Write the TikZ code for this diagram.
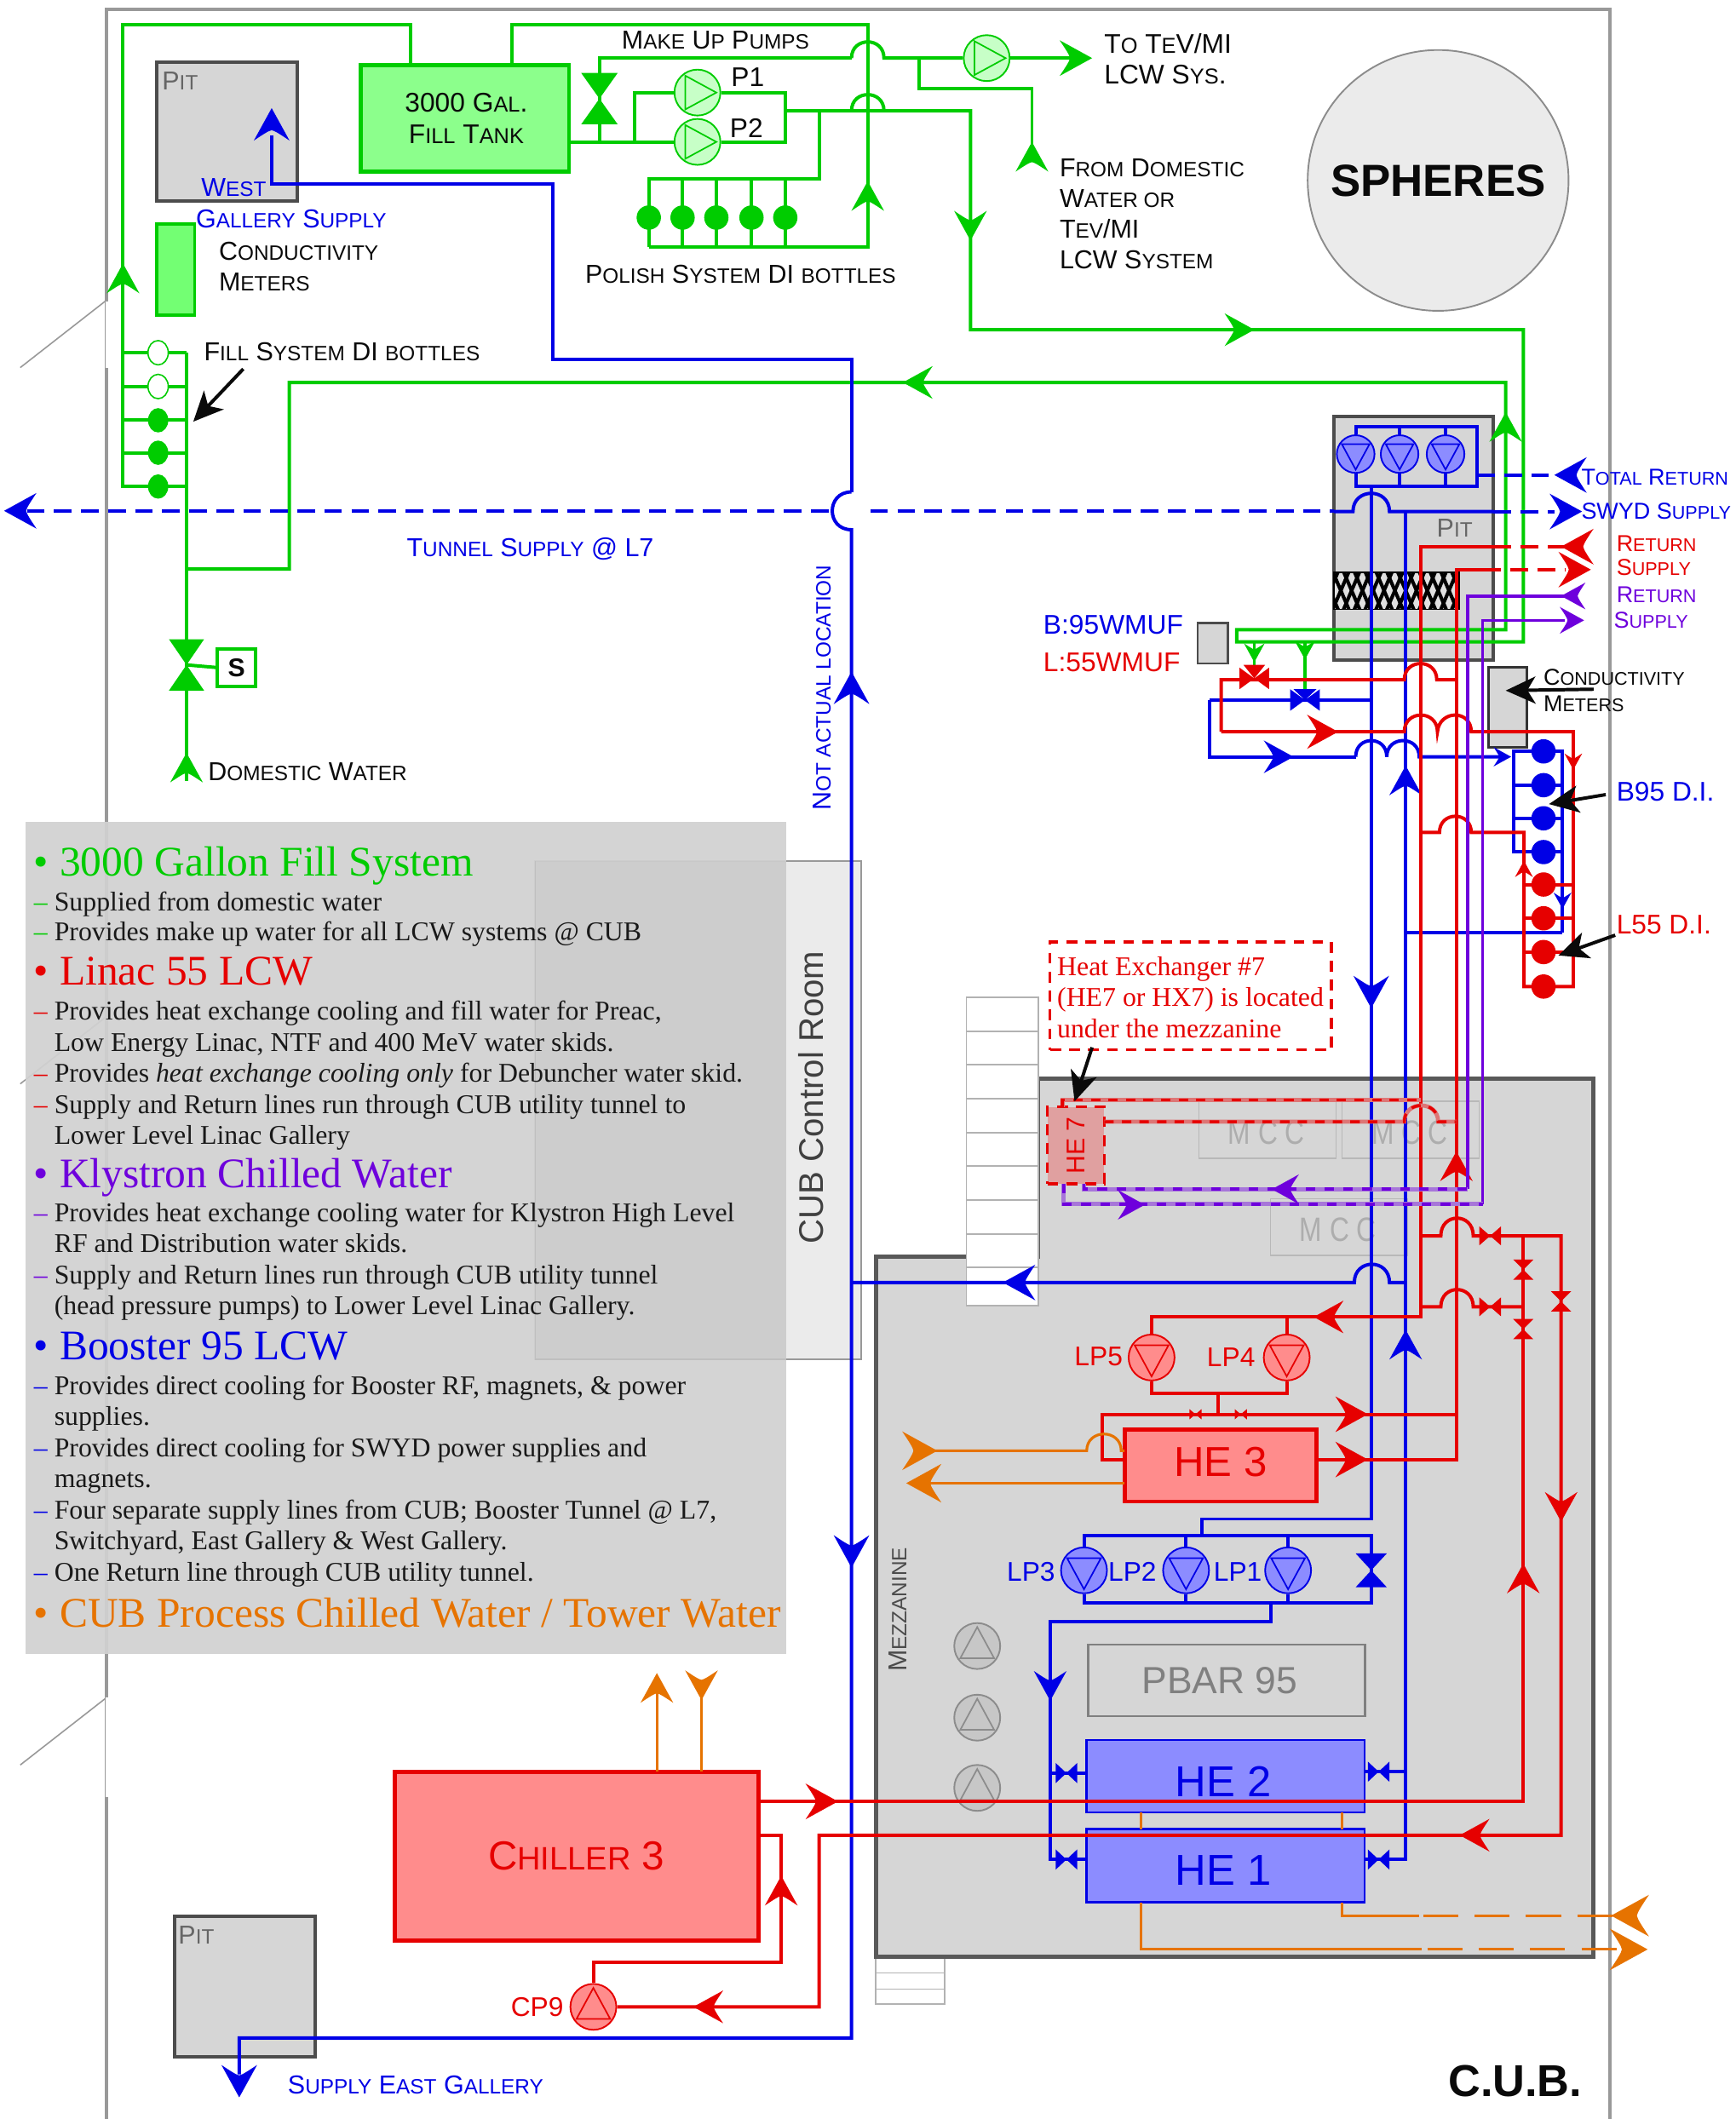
\documentclass[tikz,border=0pt]{standalone}
\usepackage{fontspec}
\setmainfont{Liberation Sans}
\newfontfamily\ser{Liberation Serif}
\usetikzlibrary{arrows.meta,shapes.geometric}
\definecolor{G}{HTML}{00CC00}
\definecolor{R}{HTML}{E60000}
\definecolor{B}{HTML}{0000E6}
\definecolor{V}{HTML}{6E00DC}
\definecolor{O}{HTML}{E67300}
\definecolor{LG}{HTML}{D6D6D6}
\definecolor{TX}{HTML}{0A0A0A}
\makeatletter
\newcommand\sm[1]{{\fontsize{\strip@pt\dimexpr0.8\dimexpr\f@size pt\relax\relax}{0pt}\selectfont #1}}
\makeatother
\newcommand\fs[1]{\fontsize{#1}{#1}\selectfont}
% filled arrowhead: colour, tip x, tip y, angle, length
\newcommand\AH[5]{\fill[#1,shift={(#2,#3)},rotate=#4,scale=#5] (0,0) -- (-1,.55) .. controls (-.8,.25) and (-.7,.1) .. (-.68,0) .. controls (-.7,-.1) and (-.8,-.25) .. (-1,-.55) -- cycle;}
% pump: [scale] name, x, y, fill, line, direction angle
\newcommand\pump[7][1]{\node[circle,draw=#6,fill=#5,line width=1.2pt,minimum size={34pt*#1},inner sep=0pt] (#2) at (#3,#4) {};
 \draw[#6,line width=1.1pt,shift={(#3,#4)},rotate=#7,scale=#1] (14,0) -- (-9,12.5) -- (-9,-12.5) -- cycle;}
% box: name, x1,y1,x2,y2, style, text
\newcommand\bx[7]{\node[#6,minimum width={(#4-#2)*1pt},minimum height={(#5-#3)*1pt},inner sep=0pt,outer sep=0pt] (#1) at ({(#2+#4)/2},{(#3+#5)/2}) {#7};}
% valves: colour,x,y,half width,half height
\newcommand\vv[5]{\fill[#1] ({#2-#4},{#3-#5}) -- ({#2+#4},{#3-#5}) -- ({#2-#4},{#3+#5}) -- ({#2+#4},{#3+#5}) -- cycle;}
\newcommand\hv[5]{\fill[#1] ({#2-#4},{#3-#5}) -- ({#2-#4},{#3+#5}) -- ({#2+#4},{#3-#5}) -- ({#2+#4},{#3+#5}) -- cycle;}
% jump over a vertical pipe: centre x, y, radius
\def\hj#1#2#3{-- ({#1-#3},#2) .. controls ({#1-#3},{#2-1.33*#3}) and ({#1+#3},{#2-1.33*#3}) .. ({#1+#3},#2)}
% labels, named from their position
\newcommand\lab[5][sc]{\node[#1,text=#2] (t#3x#4) at (#3,#4) {#5};}
\newcommand\bod[4]{\node[lgb] (d#2) at (40,#2) {#3};\node[lgb,text=#1] (m#2) at (25,#2) {#4};}
\newcommand\lin[2]{\node[lgb] (d#1) at (40,#1) {#2};}
\newcommand\hed[3]{\node[lgh,text=#1] (h#2) at (25,#2) {•};\node[lgh,text=#1] (k#2) at (44,#2) {#3};}
\tikzset{
 sc/.style={font=\fs{19.2},anchor=west,inner sep=0pt,outer sep=0pt},
 scn/.style={font=\fs{20},anchor=west,inner sep=0pt,outer sep=0pt},
 scs/.style={font=\fs{17},anchor=west,inner sep=0pt,outer sep=0pt},
 lgb/.style={font=\ser\fs{20.05},anchor=base west,inner sep=0pt,text=black!90,yshift=-6.8pt},
 lgh/.style={font=\ser\fs{31.2},anchor=base west,inner sep=0pt,yshift=-11pt},
 mcct/.style={font=\fs{25},text=black!32,inner sep=0pt,xscale=.8},
 pg/.style={line width=2.5pt,G,line join=miter},
 pr/.style={line width=2.5pt,R},
 pb/.style={line width=2.5pt,B},
 pv/.style={line width=2.2pt,V},
 po/.style={line width=2pt,O},
 bk/.style={line width=2.5pt,TX,-{Stealth[length=22pt,width=20pt,inset=6pt]}},
 dsh/.style={dash pattern=on 13pt off 7pt},
 bigdash/.style={dash pattern=on 8pt off 6pt},
 bot/.style={circle,minimum size=18pt,inner sep=0pt,fill=#1},
 fbot/.style={ellipse,minimum width=15pt,minimum height=18pt,inner sep=0pt,fill=#1},
}
\begin{document}
\begin{tikzpicture}[x=1pt,y=-1pt]
\useasboundingbox (0,0) rectangle (1284,1568);
\fill[white] (0,0) rectangle (1284,1568);
% building
\draw[black!40,line width=2.5pt] (79,1568) -- (79,7) -- (1191,7) -- (1191,1568);
\draw[white,line width=2pt] (79,223) -- (79,272);
\draw[black!40,line width=1pt] (15,272) -- (79,222);
\draw[black!40,line width=1pt] (15,802) -- (79,752);
\draw[black!40,line width=1pt] (15,1306) -- (79,1256);
\draw[white,line width=2pt] (79,1256) -- (79,1330);
% spheres
\node[circle,draw=black!45,fill=black!8,line width=1.2pt,minimum size=193pt,inner sep=0pt,font=\fs{33.3},text=TX] (sph) at (1064,133.5) {\textbf{SPHERES}};
% control room and legend
\bx{ctrl}{396}{637}{637}{1006}{draw=black!40,fill=black!8,line width=1.2pt}{}
\node[rotate=90,font=\fs{25.3},text=black!75,inner sep=0pt] (ctrlt) at (600,812) {CUB Control Room};
\bx{legend}{19}{608}{582}{1224}{fill=black!18,fill opacity=.93}{}
\fill[black,opacity=.025] (396,637) rectangle (582,1006);
\draw[black!25,line width=1pt] (396,637) -- (396,1006) -- (582,1006);
% stairs
\bx{sm}{648}{1448}{699}{1483}{draw=black!30,fill=white,line width=1pt}{}
\draw[black!30,line width=1pt] (648,1460) -- (699,1460) (648,1472) -- (699,1472);
% mezzanine
\draw[black!65,fill=LG,line width=3pt] (648,1448) -- (648,930) -- (768,930) -- (768,798) -- (1179,798) -- (1179,1448) -- cycle;
\bx{st}{715}{738}{768}{966}{draw=black!30,fill=white,line width=1.2pt}{}
\foreach \yy in {763,788,813,838,863,888,913,938} \draw[black!30,line width=1.2pt] (715,\yy) -- (768,\yy);
% MCC
\bx{mcc1}{887}{815}{988.5}{857}{draw=black!28,line width=1pt}{}
\bx{mcc2}{993}{815}{1094.5}{857}{draw=black!28,line width=1pt}{}
\bx{mcc3}{940}{887}{1041.5}{929}{draw=black!28,line width=1pt}{}
\node[mcct] (mt1) at (937,838) {M C C};
\node[mcct] (mt2) at (1043,838) {M C C};
\node[mcct] (mt3) at (990,910) {M C C};
\bx{pbar}{805}{1217}{1010}{1270}{draw=black!50,line width=1.5pt,text=black!50,font=\fs{28}}{PBAR 95\kern10pt}
% pits
\bx{pit1}{116}{46}{220}{149}{draw=black!70,fill=LG,line width=2.5pt}{}
\bx{pit2}{129}{1418}{233}{1522}{draw=black!70,fill=LG,line width=2.5pt}{}
\bx{pit3}{987}{308}{1105}{488.5}{draw=black!70,fill=LG,line width=2.5pt}{}
\begin{scope}
\clip (987,423.5) rectangle (1079.5,451);
\fill[black!12] (987,423.5) rectangle (1079.5,451);
\foreach \xx in {970,978,...,1090} {\draw[black,line width=2.6pt] (\xx,423) -- (\xx+12,451);\draw[black,line width=2.6pt] (\xx+12,423) -- (\xx,451);}
\end{scope}
\draw[black,line width=1pt] (987,423.5) rectangle (1079.5,451);
% gray boxes
\bx{wm}{886}{461}{908.5}{491}{draw=black!70,fill=LG,line width=1.5pt}{}
\bx{cm2}{1101.5}{494}{1129.5}{553}{draw=black!80,fill=LG,line width=1.8pt}{}
\bx{cm1}{116}{166}{144}{233}{draw=G,fill=green!55!white,line width=2.5pt}{}
% main boxes
\bx{tank}{267}{48}{421}{127}{draw=G,fill=green!45!white,line width=3pt,font=\fs{20},align=center,text=TX}{\kern2pt 3000 G\sm{AL}.\\[3pt]\kern2pt F\sm{ILL} T\sm{ANK}}
\bx{he7}{775}{819}{817}{876}{draw=R,bigdash,fill=red!25!LG,line width=2pt}{\rotatebox{90}{\color{R}\fs{19}HE 7}}
\bx{he3}{832}{1058}{974}{1111}{draw=R,fill=red!45!white,line width=3pt,text=R,font=\fs{31}}{}
\node[font=\fs{31},text=R,inner sep=0pt] (he3t) at (903,1082) {HE 3};
\bx{he2}{804}{1287.5}{1009.5}{1341}{draw=B,fill=blue!45!white,line width=1.6pt}{}
\bx{he1}{804}{1353.5}{1009.5}{1407.5}{draw=B,fill=blue!45!white,line width=1.6pt}{}
\node[font=\fs{32},text=B,inner sep=0pt] (he2t) at (905,1318) {HE 2};
\node[font=\fs{32},text=B,inner sep=0pt] (he1t) at (905,1384) {HE 1};
\bx{ch3}{292}{1311}{561}{1436}{draw=R,fill=red!45!white,line width=3pt,text=R,font=\fs{30}}{C\sm{HILLER} 3}
\bx{sbox}{161}{480}{189}{508}{draw=G,fill=white,line width=2.5pt,font=\bfseries\fs{19},text=TX}{S}
\bx{note}{777}{697}{985}{777}{draw=R,bigdash,line width=2pt}{}
% pumps
\pump{p1}{516}{68.5}{green!22!white}{G}{0}
\pump{p2}{516}{105}{green!22!white}{G}{0}
\pump{p3}{730}{43}{green!22!white}{G}{0}
\pump[.82]{pb1}{1003}{336}{blue!45!white}{B}{270}
\pump[.82]{pb2}{1035.5}{336}{blue!45!white}{B}{270}
\pump[.82]{pb3}{1069.5}{336}{blue!45!white}{B}{270}
\pump{lp5}{852}{1004.5}{red!45!white}{R}{270}
\pump{lp4}{952}{1004.5}{red!45!white}{R}{270}
\pump{lp3}{802}{1162}{blue!45!white}{B}{270}
\pump{lp2}{877.5}{1162}{blue!45!white}{B}{270}
\pump{lp1}{953}{1162}{blue!45!white}{B}{270}
\pump{cp9}{439}{1485}{red!45!white}{R}{90}
\pump{g1}{723}{1218}{black!22}{black!45}{90}
\pump{g2}{723}{1271}{black!22}{black!45}{90}
\pump{g3}{723}{1323}{black!22}{black!45}{90}
%%%% GREEN
\draw[pg] (304,48) -- (304,18) -- (91,18) -- (91,360) -- (138,360);
\foreach \yy in {261,286,311,335} \draw[pg] (91,\yy) -- (138,\yy);
\draw[pg] (138,261) -- (138,578);
\draw[pg] (138,492) -- (sbox.west);
\draw[pg] (138,421) -- (214,421) -- (214,283) -- (1114,283) -- (1114,466) -- (915,466) -- (915,475) -- (1127,475) -- (1127,244) -- (718,244) -- (718,82) \hj{642}{82}{12} -- (581,82);
\draw[pg] (379,48) -- (379,18) -- (642,18) -- (642,183) -- (480,183);
\draw[pg] (421,105) -- (p2.west);
\draw[pg] (443.5,105) -- (443.5,43) -- (630,43);
\draw[pg] (630,43) .. controls (630,27) and (654,27) .. (654,43) -- (p3.west);
\draw[pg] (p3.east) -- (800,43);
\draw[pg] (469.5,105) -- (469.5,68.5) -- (p1.west);
\draw[pg] (p1.east) -- (581,68.5) -- (581,105) -- (p2.east);
\draw[pg] (606,82) -- (606,132.5) -- (480,132.5) -- (480,183);
\foreach \xx in {505,530,556,581} \draw[pg] (\xx,132.5) -- (\xx,183);
\draw[pg] (680,43) -- (680,65.5) -- (763.5,65.5) -- (763.5,115);
\draw[pg] (928,475) -- (928,495);
\draw[pg] (965.5,475) -- (965.5,510);
\foreach \xx in {480,505,530,556,581} \node[bot=G] (pb\xx) at (\xx,161) {};
\foreach \yy in {311,335,360} \node[fbot=G] (fb\yy) at (117,\yy) {};
\foreach \yy in {261,286} \node[fbot=white,draw=G,line width=1pt] (fb\yy) at (117,\yy) {};
\vv{G}{443.5}{73}{13.5}{19}
\vv{G}{138}{492}{13}{19}
\AH{G}{91}{195}{90}{22}
\AH{G}{138}{557}{90}{22}
\AH{G}{808}{43}{0}{24}
\AH{G}{763.5}{105}{90}{22}
\AH{G}{642}{134}{90}{22}
\AH{G}{718}{178}{270}{22}
\AH{G}{928}{244}{0}{22}
\AH{G}{668}{283}{180}{22}
\AH{G}{1114}{305}{90}{22}
\AH{G}{928}{490}{270}{14}
\AH{G}{965.5}{488}{270}{14}
%%%% BLUE
\draw[pb] (201,100) -- (201,136) -- (409,136) -- (409,266) -- (630,266) -- (630,364);
\draw[pb] (630,364) .. controls (611,364) and (611,392) .. (630,392) -- (630,1508) -- (177,1508) -- (177,1535);
\draw[pb,dsh] (20,378) -- (616,378);
\draw[pb,dsh] (644,378) -- (987,378);
\draw[pb] (987,378.5) \hj{1014.5}{378.5}{13.5} -- (1105,378.5);
\draw[pb,dsh] (1105,378.5) -- (1150,378.5);
\draw[pb] (pb1.north) -- (1003,315.5) -- (1093,315.5) -- (1093,360) -- (1003,360) -- (pb1.south);
\draw[pb] (pb2.north) -- (1035.5,315.5) (pb3.north) -- (1069.5,315.5) (pb2.south) -- (1035.5,360) (pb3.south) -- (1069.5,360);
\draw[pb,dsh] (1093,351.5) -- (1155,351.5);
\draw[pb] (1014.5,360) -- (1014.5,1124) -- (889,1124) -- (889,1136);
\draw[pb] (lp3.north) -- (802,1136) -- (1014.5,1136) -- (1014.5,1186) -- (802,1186) -- (lp3.south);
\draw[pb] (lp2.north) -- (877.5,1136) (lp1.north) -- (953,1136) (lp2.south) -- (877.5,1186) (lp1.south) -- (953,1186);
\draw[pb] (940,1186) -- (940,1200) -- (777,1200) -- (777,1376) -- (804,1376);
\draw[pb] (777,1312) -- (804,1312);
\draw[pb] (1040,379) -- (1040,1376) -- (1009.5,1376);
\draw[pb] (1040,1311) -- (1009.5,1311);
\draw[pb] (1040,949) -- (1028,949) .. controls (1028,931) and (1002,931) .. (1002,949) -- (630,949);
\draw[pb] (895,518) -- (1014.5,518);
\draw[pb] (895,518) -- (895,560) -- (1003,560);
\draw[pb] (1003,560) .. controls (1003,544) and (1026,544) .. (1026,560) .. controls (1026,544) and (1050,544) .. (1050,560) -- (1112,560);
\draw[pb] (1156,690) -- (1156,556) -- (1120,556) -- (1120,630.5) -- (1156,630.5);
\draw[pb] (1120,581) -- (1156,581) (1120,605.5) -- (1156,605.5);
\draw[pb] (1156,690) -- (1040,690);
\foreach \yy in {556,581,605.5,630.5} \node[bot=B] (bd\yy) at (1142,\yy) {};
\vv{B}{1014.5}{1162}{11.5}{12.5}
\hv{B}{965.5}{518}{11}{8}
\fill[B] (957,510) -- (974,510) -- (965.5,518) -- cycle;
\hv{B}{789}{1312}{8}{7.5}
\hv{B}{789}{1376}{8}{7.5}
\hv{B}{1020}{1311}{8}{7.5}
\hv{B}{1020}{1376}{8}{7.5}
\AH{B}{201}{80}{90}{24}
\AH{B}{3}{378}{180}{24}
\AH{B}{1170.5}{378.5}{0}{24}
\AH{B}{1150}{351.5}{180}{24}
\AH{B}{630}{497}{90}{24}
\AH{B}{630}{1160}{270}{24}
\AH{B}{742}{949}{180}{24}
\AH{B}{1014.5}{746}{270}{24}
\AH{B}{1040}{566.5}{90}{22}
\AH{B}{1040}{984}{90}{22}
\AH{B}{777}{1258.5}{270}{22}
\AH{B}{957}{560}{0}{22}
\AH{B}{1118}{560}{0}{13}
\AH{B}{1156}{672.5}{270}{12}
\AH{B}{177}{1552}{270}{24}
%%%% RED
\draw[pr,dsh] (1105,404.5) -- (1160,404.5);
\draw[pr,dsh] (1077.5,421.5) -- (1158,421.5);
\draw[pr] (1105,404.5) -- (1051,404.5) -- (1051,974.5) -- (852,974.5) -- (lp5.north);
\draw[pr] (952,974.5) -- (lp4.north);
\draw[pr] (lp5.south) -- (852,1031) -- (952,1031) -- (lp4.south);
\draw[pr] (901.5,1031) -- (901.5,1046.5);
\draw[pr] (1100,421.5) -- (1077.5,421.5) -- (1077.5,1080) -- (974,1080);
\draw[pr] (832,1080) -- (815.5,1080) -- (815.5,1046.5) -- (1077.5,1046.5);
\draw[pr] (903.5,541.5) -- (903.5,503) -- (1039,503) .. controls (1039,487) and (1063,487) .. (1063,503) -- (1077.5,503);
\draw[pr] (903.5,541.5) -- (1039,541.5) .. controls (1039,525) and (1063.5,525) .. (1063.5,541.5) .. controls (1065,525) and (1088.5,525) .. (1088.5,541.5) -- (1164,541.5) -- (1164,730) -- (1127.5,730) -- (1127.5,616) -- (1088.5,616) .. controls (1088.5,600) and (1065,600) .. (1065,616) -- (1051,616);
\foreach \yy in {654.5,679.5,704.5} \draw[pr] (1127.5,\yy) -- (1164,\yy);
\draw[pr] (1051,914.5) -- (1066,914.5) .. controls (1066,897) and (1090,897) .. (1090,914.5) -- (1155,914.5) -- (1155,1358) -- (606,1358) -- (606,1485) -- (cp9.east);
\draw[pr] (1051,967) -- (1066,967) .. controls (1066,950) and (1090,950) .. (1090,967) -- (1127,967);
\draw[pr] (561,1333) -- (1127,1333) -- (1127,914.5);
\draw[pr] (561,1358) -- (578,1358) -- (578,1452) -- (439,1452) -- (cp9.north);
\foreach \yy in {654.5,679.5,704.5,730} \node[bot=R] (rd\yy) at (1142,\yy) {};
\hv{R}{928}{502}{11}{8}
\fill[R] (920,492) -- (936,492) -- (928,502) -- cycle;
\hv{R}{1102.5}{914.5}{8}{7}
\hv{R}{1102.5}{967}{8}{7}
\vv{R}{1127}{939.5}{7.5}{7.5}
\vv{R}{1127}{983.5}{7.5}{7.5}
\vv{R}{1155}{963}{7.5}{7.5}
\hv{R}{884.5}{1046.5}{4.5}{3.8}
\hv{R}{918}{1046.5}{4.5}{3.8}
\AH{R}{1155}{404.5}{180}{24}
\AH{R}{1177}{421.5}{0}{24}
\AH{R}{990}{541.5}{0}{23}
\AH{R}{1164}{569.5}{270}{12}
\AH{R}{1127.5}{637}{90}{12}
\AH{R}{972}{974.5}{180}{22}
\AH{R}{1012}{1046.5}{0}{24}
\AH{R}{1012}{1080}{0}{24}
\AH{R}{1077.5}{852}{90}{22}
\AH{R}{1155}{1126}{270}{22}
\AH{R}{1127}{1157}{90}{22}
\AH{R}{620}{1333}{0}{24}
\AH{R}{1080}{1358}{180}{22}
\AH{R}{578}{1388}{90}{22}
\AH{R}{513}{1485}{180}{22}
% HE7 loops
\draw[line width=3pt,R!45!LG] (786,819) -- (786,814) -- (1051,814);
\draw[line width=2.2pt,R,dash pattern=on 7pt off 6pt] (786,819) -- (786,814) -- (1051,814);
\draw[line width=3pt,R!45!LG] (817,830) -- (1039,830) .. controls (1039,814) and (1064,814) .. (1064,830) -- (1077.5,830);
\draw[line width=2.2pt,R,dash pattern=on 7pt off 6pt] (817,830) -- (1039,830) .. controls (1039,814) and (1064,814) .. (1064,830) -- (1077.5,830);
%%%% PURPLE
\draw[pv] (1086,880) -- (1086,441) -- (1158,441);
\draw[pv] (1097,891) -- (1097,459) -- (1158,459);
\draw[line width=3pt,V!45!LG] (802,876) -- (802,880) -- (1086,880);
\draw[line width=3pt,V!45!LG] (787,876) -- (787,891) -- (1097,891);
\draw[line width=2.4pt,V,dash pattern=on 7pt off 7pt] (802,876) -- (802,880) -- (1086,880);
\draw[line width=2.4pt,V,dash pattern=on 7pt off 7pt] (787,876) -- (787,891) -- (1097,891);
\AH{V}{1155}{441}{180}{18}
\AH{V}{1172}{459}{0}{18}
\AH{V}{941}{880}{180}{20}
\AH{V}{847}{891.5}{0}{20}
%%%% ORANGE
\draw[po] (832,1073.5) -- (829.5,1073.5) .. controls (829.5,1057) and (804,1057) .. (804,1073.5) -- (690,1073.5);
\draw[po] (832,1097.5) -- (685,1097.5);
\draw[po] (486,1311) -- (486,1250) (519,1311) -- (519,1250);
\draw[po] (844,1341) -- (844,1354) (993,1341) -- (993,1354);
\draw[po] (844,1408) -- (844,1442.5) -- (1052,1442.5);
\draw[po] (993,1408) -- (993,1417.5) -- (1050,1417.5);
\draw[po,dash pattern=on 26pt off 12pt] (1056,1442.5) -- (1200,1442.5);
\draw[po,dash pattern=on 26pt off 12pt] (1053,1417.5) -- (1196,1417.5);
\AH{O}{693.5}{1073.5}{0}{26}
\AH{O}{670.5}{1097.5}{180}{26}
\AH{O}{486}{1238}{90}{22}
\AH{O}{519}{1258}{270}{22}
\AH{O}{1219}{1442.5}{0}{28}
\AH{O}{1192}{1417.5}{180}{28}
%%%% black arrows
\coordinate (a0) at (180,273);
\coordinate (a1) at (1179,510);
\coordinate (a2) at (1188,588);
\coordinate (a3) at (1195,692);
\coordinate (a4) at (808,775);
\draw[bk] (a0) -- (143,312);
\draw[bk] (a1) -- (1114,511);
\draw[bk] (a2) -- (1146,595);
\draw[bk] (a3) -- (1153,707);
\draw[bk] (a4) -- (795,815);
%%%% labels
\lab[sc]{black!60}{120}{60}{P\sm{IT}}
\lab[sc]{black!60}{132}{1432}{P\sm{IT}}
\lab[sc]{black!60}{1063}{391}{P\sm{IT}}
\lab{B}{149}{139}{W\sm{EST}}
\lab{B}{145}{162}{G\sm{ALLERY} S\sm{UPPLY}}
\lab{TX}{162}{186}{C\sm{ONDUCTIVITY}}
\lab{TX}{162}{209}{M\sm{ETERS}}
\lab{TX}{151}{260}{F\sm{ILL} S\sm{YSTEM} DI \sm{BOTTLES}}
\lab{TX}{460}{30}{M\sm{AKE} U\sm{P} P\sm{UMPS}}
\lab[scn]{TX}{541}{57}{P1}
\lab[scn]{TX}{540}{95}{P2}
\lab{TX}{433}{203}{P\sm{OLISH} S\sm{YSTEM} DI \sm{BOTTLES}}
\lab[scn]{TX}{817}{32}{T\sm{O} T\sm{E}V/MI}
\lab[scn]{TX}{817}{55}{LCW S\sm{YS}.}
\lab{TX}{784}{124}{F\sm{ROM} D\sm{OMESTIC}}
\lab{TX}{784}{147}{W\sm{ATER OR}}
\lab{TX}{784}{169}{T\sm{EV}/MI}
\lab{TX}{784}{192}{LCW S\sm{YSTEM}}
\lab{B}{301}{406}{T\sm{UNNEL} S\sm{UPPLY} @ L7}
\node[sc,anchor=center,rotate=90,text=B] (nal) at (608,509) {N\sm{OT ACTUAL LOCATION}};
\lab{TX}{154}{571}{D\sm{OMESTIC} W\sm{ATER}}
\lab[scs]{B}{1170}{353}{T\sm{OTAL} R\sm{ETURN}}
\lab[scs]{B}{1170}{378}{SWYD S\sm{UPPLY}}
\lab[scs]{R}{1196}{402}{R\sm{ETURN}}
\lab[scs]{R}{1196}{420}{S\sm{UPPLY}}
\lab[scs]{V}{1196}{440}{R\sm{ETURN}}
\lab[scs]{V}{1194}{459}{S\sm{UPPLY}}
\lab[scn]{B}{772}{462}{B:95WMUF}
\lab[scn]{R}{772}{490}{L:55WMUF}
\lab[scs]{TX}{1142}{501}{C\sm{ONDUCTIVITY}}
\lab[scs]{TX}{1142}{521}{M\sm{ETERS}}
\lab[scn]{B}{1196}{586}{B95 D.I.}
\lab[scn]{R}{1196}{684}{L55 D.I.}
\lab[scn]{R}{795}{1004}{LP5}
\lab[scn]{R}{893}{1004}{LP4}
\lab[scn]{B}{745}{1163}{LP3}
\lab[scn]{B}{820}{1163}{LP2}
\lab[scn]{B}{898}{1163}{LP1}
\lab[scn]{R}{378}{1485}{CP9}
\lab{B}{213}{1543}{S\sm{UPPLY} E\sm{AST} G\sm{ALLERY}}
\node[sc,anchor=center,rotate=90,text=black!70] (mz) at (664,1191) {M\sm{EZZANINE}};
\node[font=\bfseries\fs{33},text=TX,inner sep=0pt] (cub) at (1121,1540) {C.U.B.};
% note text
\node[lgb,text=R] (n1) at (782,715) {Heat Exchanger \#7};
\node[lgb,text=R] (n2) at (782,738) {(HE7 or HX7) is located};
\node[lgb,text=R] (n3) at (782,761) {under the mezzanine};
% legend
\hed{G}{637}{3000 Gallon Fill System}
\bod{G}{667}{Supplied from domestic water}{–}
\bod{G}{689}{Provides make up water for all LCW systems @ CUB}{–}
\hed{R}{718}{Linac 55 LCW}
\bod{R}{748}{Provides heat exchange cooling and fill water for Preac,}{–}
\lin{771}{Low Energy Linac, NTF and 400 MeV water skids.}
\bod{R}{794}{Provides \emph{heat exchange cooling only} for Debuncher water skid.}{–}
\bod{R}{817}{Supply and Return lines run through CUB utility tunnel to}{–}
\lin{840}{Lower Level Linac Gallery}
\hed{V}{868}{Klystron Chilled Water}
\bod{V}{897}{Provides heat exchange cooling water for Klystron High Level}{–}
\lin{920}{RF and Distribution water skids.}
\bod{V}{943}{Supply and Return lines run through CUB utility tunnel}{–}
\lin{966}{(head pressure pumps) to Lower Level Linac Gallery.}
\hed{B}{995}{Booster 95 LCW}
\bod{B}{1025}{Provides direct cooling for Booster RF, magnets, \& power}{–}
\lin{1048}{supplies.}
\bod{B}{1071}{Provides direct cooling for SWYD power supplies and}{–}
\lin{1094}{magnets.}
\bod{B}{1117}{Four separate supply lines from CUB; Booster Tunnel @ L7,}{–}
\lin{1140}{Switchyard, East Gallery \& West Gallery.}
\bod{B}{1163}{One Return line through CUB utility tunnel.}{–}
\hed{O}{1193}{CUB Process Chilled Water / Tower Water}
\end{tikzpicture}
\end{document}
